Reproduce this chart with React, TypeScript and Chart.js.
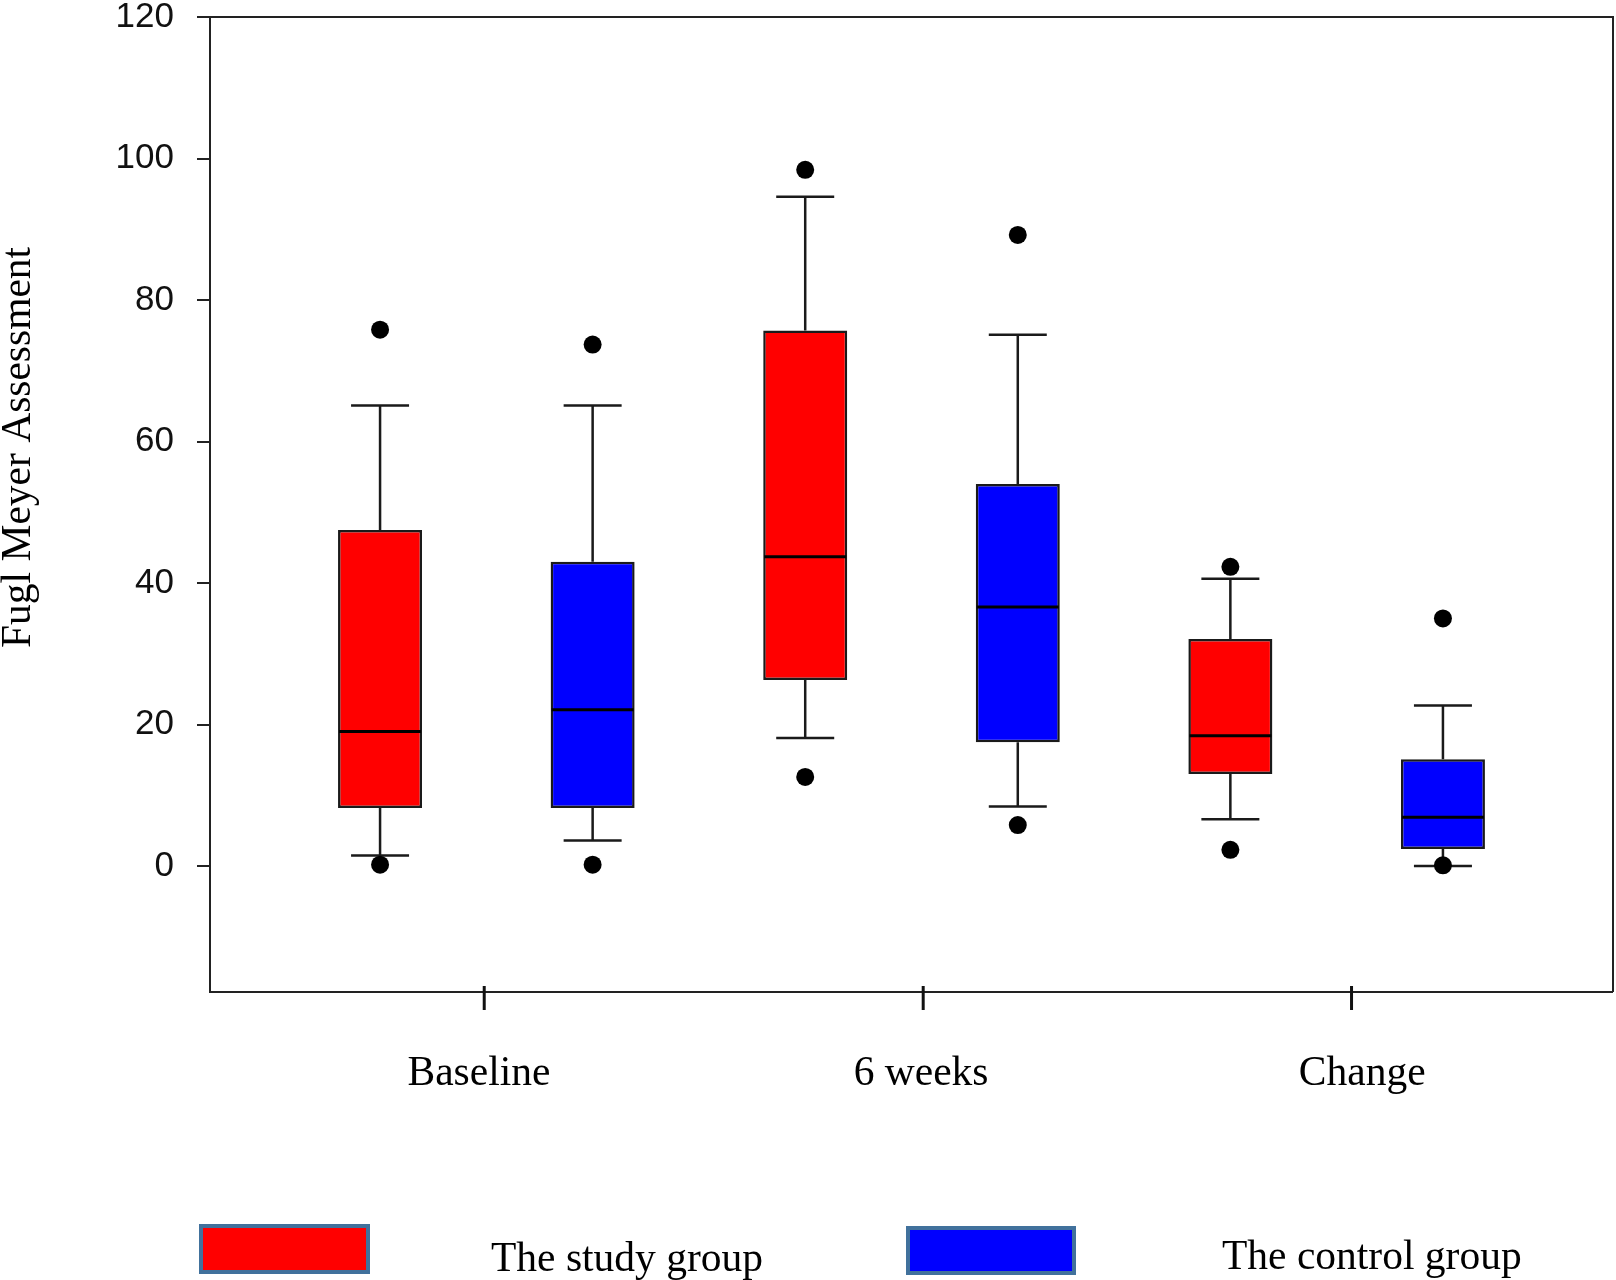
import React, { useEffect, useRef } from "react";
import { Chart, registerables } from "chart.js";

Chart.register(...registerables);

// ---------- data ----------
const categories = ["Baseline", "6 weeks", "Change"];
const categoryLabelPositions = [1.465, 3.545, 5.62];
const categoryTickMarkPositions = [1.49, 3.555, 5.57];
const yTickValues = [0, 20, 40, 60, 80, 100, 120];
const yAxisTitle = "Fugl Meyer Assessment";
const seriesNames = ["The study group", "The control group"];

const studyWhiskerLow = [1.5, 18.1, 6.6];
const studyQ1 = [8.2, 26.3, 13.0];
const studyMedian = [19.0, 43.7, 18.4];
const studyQ3 = [47.5, 75.7, 32.1];
const studyWhiskerHigh = [65.1, 94.6, 40.6];
const studyOutliersLow = [0.2, 12.6, 2.3];
const studyOutliersHigh = [75.8, 98.4, 42.3];

const controlWhiskerLow = [3.6, 8.4, 0.0];
const controlQ1 = [8.2, 17.5, 2.4];
const controlMedian = [22.1, 36.6, 6.9];
const controlQ3 = [43.0, 54.0, 15.1];
const controlWhiskerHigh = [65.1, 75.1, 22.7];
const controlOutliersLow = [0.2, 5.8, 0.1];
const controlOutliersHigh = [73.7, 89.2, 35.0];

// ---------- layout / style ----------
const W = 1616;
const H = 1280;
const studyColor = "#FF0000";
const controlColor = "#0000FF";
const lineColor = "#1a1a1a";
const serif = "'Liberation Serif', 'Times New Roman', serif";
const sans = "'Liberation Sans', Arial, sans-serif";

const studyPos = categories.map((_, i) => 1 + 2 * i);
const controlPos = categories.map((_, i) => 2 + 2 * i);

const groups = [
  { pos: studyPos, low: studyWhiskerLow, q1: studyQ1, med: studyMedian, q3: studyQ3, high: studyWhiskerHigh },
  { pos: controlPos, low: controlWhiskerLow, q1: controlQ1, med: controlMedian, q3: controlQ3, high: controlWhiskerHigh },
];

const BOX_W = 84;
const CAP_HALF = 29;

const whiskerPlugin = {
  id: "whiskers",
  beforeDatasetsDraw(chart: any) {
    const { ctx, scales } = chart;
    const x = scales.x;
    const y = scales.y;
    ctx.save();
    ctx.strokeStyle = lineColor;
    ctx.lineWidth = 2.5;
    groups.forEach((g) => {
      g.pos.forEach((p, i) => {
        const px = x.getPixelForValue(p);
        const yHigh = y.getPixelForValue(g.high[i]);
        const yLow = y.getPixelForValue(g.low[i]);
        ctx.beginPath();
        ctx.moveTo(px, yHigh);
        ctx.lineTo(px, y.getPixelForValue(g.q3[i]));
        ctx.moveTo(px, y.getPixelForValue(g.q1[i]));
        ctx.lineTo(px, yLow);
        ctx.moveTo(px - CAP_HALF, yHigh);
        ctx.lineTo(px + CAP_HALF, yHigh);
        ctx.moveTo(px - CAP_HALF, yLow);
        ctx.lineTo(px + CAP_HALF, yLow);
        ctx.stroke();
      });
    });
    ctx.restore();
  },
  afterDatasetsDraw(chart: any) {
    const { ctx, scales } = chart;
    const x = scales.x;
    const y = scales.y;
    ctx.save();
    ctx.strokeStyle = "#000";
    ctx.lineWidth = 3;
    groups.forEach((g) => {
      g.pos.forEach((p, i) => {
        const px = x.getPixelForValue(p);
        const py = y.getPixelForValue(g.med[i]);
        ctx.beginPath();
        ctx.moveTo(px - BOX_W / 2 + 1, py);
        ctx.lineTo(px + BOX_W / 2 - 1, py);
        ctx.stroke();
      });
    });
    ctx.restore();
  },
};

const framePlugin = {
  id: "frame",
  afterDraw(chart: any) {
    const { ctx, chartArea } = chart;
    ctx.save();
    ctx.strokeStyle = "#222";
    ctx.lineWidth = 2;
    ctx.beginPath();
    ctx.moveTo(chartArea.left, chartArea.top);
    ctx.lineTo(chartArea.right, chartArea.top);
    ctx.lineTo(chartArea.right, chartArea.bottom);
    ctx.stroke();
    // category tick marks on the x axis (crossing the axis line)
    const x = chart.scales.x;
    ctx.strokeStyle = "#111";
    ctx.lineWidth = 3;
    categoryTickMarkPositions.forEach((v) => {
      const px = x.getPixelForValue(v);
      ctx.beginPath();
      ctx.moveTo(px, chartArea.bottom - 6);
      ctx.lineTo(px, chartArea.bottom + 18);
      ctx.stroke();
    });
    ctx.restore();
  },
};

const legendLayout = [
  { x: 201, y: 1226, w: 167, h: 46, tx: 491, ty: 1271 },
  { x: 908, y: 1228, w: 166, h: 45, tx: 1222, ty: 1269 },
];

const legendPlugin = {
  id: "customLegend",
  afterDraw(chart: any) {
    const { ctx } = chart;
    ctx.save();
    legendLayout.forEach((L, i) => {
      const ds = chart.data.datasets[i];
      ctx.fillStyle = ds.backgroundColor;
      ctx.fillRect(L.x, L.y, L.w, L.h);
      ctx.strokeStyle = "#41719C";
      ctx.lineWidth = 4;
      ctx.strokeRect(L.x, L.y, L.w, L.h);
      ctx.fillStyle = "#000";
      ctx.font = `41.5px ${serif}`;
      ctx.textAlign = "left";
      ctx.textBaseline = "alphabetic";
      ctx.fillText(ds.label, L.tx, L.ty);
    });
    ctx.restore();
  },
};

export default function App() {
  const ref = useRef<HTMLCanvasElement | null>(null);

  useEffect(() => {
    if (!ref.current) return;
    const chart = new Chart(ref.current, {
      type: "bar",
      data: {
        datasets: [
          {
            type: "bar",
            label: seriesNames[0],
            data: studyPos.map((p, i) => ({ x: p, y: [studyQ1[i], studyQ3[i]] })) as any,
            backgroundColor: studyColor,
            borderColor: lineColor,
            borderWidth: 2.5,
            borderSkipped: false,
            grouped: false,
            maxBarThickness: BOX_W,
            order: 2,
          } as any,
          {
            type: "bar",
            label: seriesNames[1],
            data: controlPos.map((p, i) => ({ x: p, y: [controlQ1[i], controlQ3[i]] })) as any,
            backgroundColor: controlColor,
            borderColor: lineColor,
            borderWidth: 2.5,
            borderSkipped: false,
            grouped: false,
            maxBarThickness: BOX_W,
            order: 2,
          } as any,
          {
            type: "scatter",
            label: "study outliers",
            data: studyPos.flatMap((p, i) => [
              { x: p, y: studyOutliersLow[i] },
              { x: p, y: studyOutliersHigh[i] },
            ]),
            backgroundColor: "#000",
            borderWidth: 0,
            pointRadius: 9,
            showLine: false,
            order: 0,
          } as any,
          {
            type: "scatter",
            label: "control outliers",
            data: controlPos.flatMap((p, i) => [
              { x: p, y: controlOutliersLow[i] },
              { x: p, y: controlOutliersHigh[i] },
            ]),
            backgroundColor: "#000",
            borderWidth: 0,
            pointRadius: 9,
            showLine: false,
            order: 0,
          } as any,
        ],
      },
      options: {
        animation: false,
        responsive: false,
        devicePixelRatio: 1,
        events: [],
        layout: { autoPadding: false, padding: { left: 0, top: 17, right: 3, bottom: 0 } },
        plugins: {
          legend: { display: false },
          tooltip: { enabled: false },
        },
        scales: {
          x: {
            type: "linear",
            min: 0.2,
            max: 6.8,
            offset: false,
            afterBuildTicks: (scale: any) => {
              scale.ticks = categoryLabelPositions.map((v) => ({ value: v }));
            },
            afterFit: (scale: any) => {
              scale.height = 288;
              scale.paddingLeft = 0;
              scale.paddingRight = 0;
            },
            ticks: {
              autoSkip: false,
              maxRotation: 0,
              padding: 39,
              color: "#000",
              font: { family: serif, size: 41.5, lineHeight: 1.2 },
              callback: (_v: any, i: number) => categories[i],
            },
            grid: {
              display: true,
              offset: false,
              drawOnChartArea: false,
              drawTicks: true,
              tickLength: 18,
              lineWidth: 0,
              color: "rgba(0,0,0,0)",
            },
            border: { display: true, color: "#222", width: 2 },
          } as any,
          y: {
            type: "linear",
            min: -17.8,
            max: 120,
            afterBuildTicks: (scale: any) => {
              scale.ticks = yTickValues.map((v) => ({ value: v }));
            },
            afterFit: (scale: any) => {
              scale.width = 210;
              scale.paddingTop = 0;
              scale.paddingBottom = 0;
            },
            ticks: {
              padding: 23,
              color: "#111",
              font: { family: sans, size: 35, lineHeight: 0.9 },
            },
            grid: {
              display: true,
              drawOnChartArea: false,
              drawTicks: true,
              tickLength: 13,
              lineWidth: 2,
              color: "#222",
            },
            border: { display: true, color: "#222", width: 2 },
            title: {
              display: true,
              text: " ".repeat(11) + yAxisTitle,
              color: "#000",
              padding: 0,
              font: { family: serif, size: 41.5, lineHeight: 0.9 },
            },
          } as any,
        },
      },
      plugins: [whiskerPlugin, framePlugin, legendPlugin],
    });
    return () => chart.destroy();
  }, []);

  return (
    <div style={{ position: "absolute", left: 0, top: 0, width: W, height: H, background: "#fff" }}>
      <canvas ref={ref} width={W} height={H} style={{ width: W, height: H, display: "block" }} />
    </div>
  );
}
